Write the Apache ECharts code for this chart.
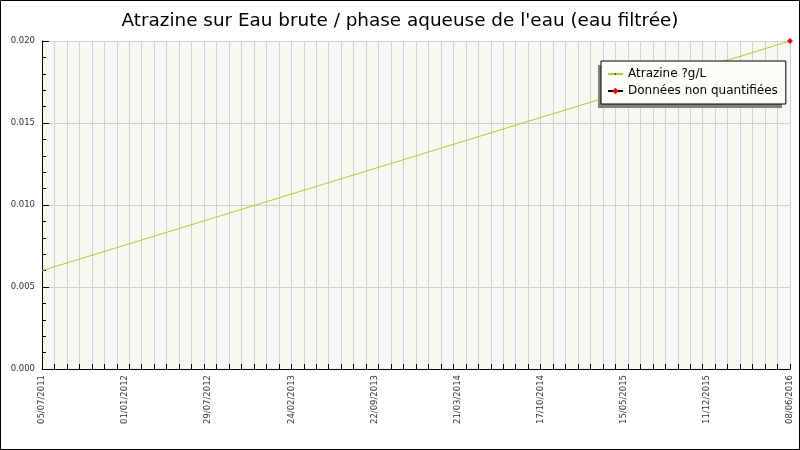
<!DOCTYPE html>
<html>
<head>
<meta charset="utf-8">
<script src="https://cdn.jsdelivr.net/npm/echarts@6/dist/echarts.min.js"></script>
<style>
html,body{margin:0;padding:0;background:#fff;}
#c{width:800px;height:450px;}
</style>
</head>
<body>
<div id="c"></div>
<script>
const titleText = "Atrazine sur Eau brute / phase aqueuse de l'eau (eau filtrée)";
const yName = "Atrazine ?g/L";
const seriesNames = ["Atrazine ?g/L", "Données non quantifiées"];
const xTickLabels = ["05/07/2011","01/01/2012","29/07/2012","24/02/2013","22/09/2013","21/03/2014","17/10/2014","15/05/2015","11/12/2015","08/06/2016"];
// x positions in axis units (0 = first label, 1800 = last label)
const sampleX = [0, 1800];
const atrazineValues = [0.006, 0.020];
const nonQuantX = [1800];
const nonQuantValues = [0.020];

const X_MAX = 1800;
const LABEL_STEP = X_MAX / (xTickLabels.length - 1);
const TICK_STEP = 30;

const chart = echarts.init(document.getElementById('c'), null, {renderer: 'canvas'});
const font = 'DejaVu Sans';
// small dot symbol (degenerate corner points keep the dot small inside its box)
const smallDot = 'path://M0,0L0,0M10,10L10,10M4,4L6,4L6,6L4,6Z';

const option = {
  animation: false,
  backgroundColor: '#ffffff',
  textStyle: {fontFamily: font},
  title: {
    text: titleText,
    left: 'center',
    top: 7,
    textStyle: {fontFamily: font, fontSize: 18.4, fontWeight: 'normal', color: '#000'}
  },
  legend: {
    orient: 'vertical',
    left: 601,
    top: 61,
    z: 8,
    padding: [6, 8, 6, 6],
    itemGap: 3,
    itemWidth: 15,
    itemHeight: 8,
    backgroundColor: '#fcfcf8',
    borderColor: '#000',
    borderWidth: 1,
    borderRadius: 0,
    textStyle: {fontFamily: font, fontSize: 12, color: '#000', lineHeight: 14},
    data: seriesNames
  },
  grid: {
    left: 42, right: 10, top: 41, bottom: 81,
    containLabel: false, outerBoundsMode: 'none',
    show: true, backgroundColor: '#f8f8f0', borderWidth: 0
  },
  xAxis: [
    {
      type: 'value', min: 0, max: X_MAX, interval: LABEL_STEP,
      axisLine: {show: true, onZero: false, lineStyle: {color: '#000', width: 1}},
      axisTick: {show: false},
      splitLine: {show: false},
      axisLabel: {
        rotate: 90, margin: 6, fontSize: 8.5, color: '#333', fontFamily: font,
        showMinLabel: true, showMaxLabel: true,
        formatter: v => xTickLabels[Math.round(v / LABEL_STEP)] || ''
      }
    },
    {
      type: 'value', min: 0, max: X_MAX, interval: TICK_STEP, position: 'bottom',
      axisLine: {show: false, onZero: false},
      axisTick: {show: true, inside: true, length: 5, lineStyle: {color: '#000'}},
      splitLine: {show: true, lineStyle: {color: '#d0d0d0', width: 1}},
      axisLabel: {show: false}
    }
  ],
  yAxis: {
    type: 'value', min: 0, max: 0.02, interval: 0.005,
    name: yName, nameLocation: 'middle', nameGap: 22,
    nameTextStyle: {fontFamily: font, fontSize: 12, color: '#000'},
    axisLine: {show: true, lineStyle: {color: '#000', width: 1}},
    axisTick: {show: true, inside: true, length: 7, lineStyle: {color: '#000'}},
    minorTick: {show: true, splitNumber: 5, length: 4, lineStyle: {color: '#000'}},
    splitLine: {show: true, lineStyle: {color: '#d0d0d0', width: 1}},
    axisLabel: {margin: 7, fontSize: 8.5, color: '#333', fontFamily: font, formatter: v => v.toFixed(3)}
  },
  series: [
    {
      name: seriesNames[0], type: 'line', xAxisIndex: 0,
      data: sampleX.map((x, i) => [x, atrazineValues[i]]),
      symbol: smallDot, symbolSize: 2, showSymbol: true,
      itemStyle: {color: '#000'},
      lineStyle: {color: '#a6d32a', width: 1},
      z: 3
    },
    {
      name: seriesNames[1], type: 'line', xAxisIndex: 0,
      data: nonQuantX.map((x, i) => [x, nonQuantValues[i]]),
      symbol: 'diamond', symbolSize: 6,
      itemStyle: {color: '#ff0000'},
      lineStyle: {color: '#000', width: 1},
      z: 5
    }
  ],
  graphic: [
    {type: 'rect', z: 7, silent: true,
     shape: {x: 598, y: 65, width: 184, height: 43},
     style: {fill: '#808080', stroke: null}},
    {type: 'rect', shape: {x: 0.5, y: 0.5, width: 799, height: 449},
     style: {fill: null, stroke: '#000', lineWidth: 1}, silent: true, z: 100}
  ]
};
chart.setOption(option);
</script>
</body>
</html>
